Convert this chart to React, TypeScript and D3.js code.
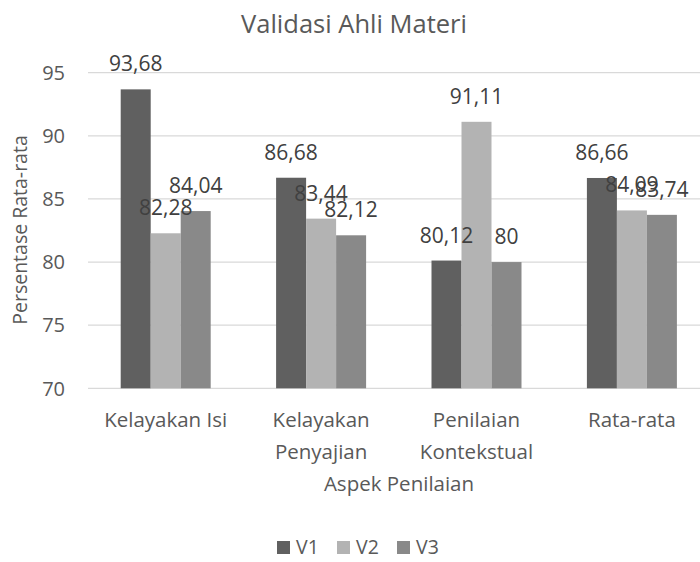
import * as d3 from 'd3'

const categories = [['Kelayakan Isi'], ['Kelayakan', 'Penyajian'], ['Penilaian', 'Kontekstual'], ['Rata-rata']]
const seriesNames = ['V1', 'V2', 'V3']
const v1 = [93.68, 86.68, 80.12, 86.66]
const v2 = [82.28, 83.44, 91.11, 84.09]
const v3 = [84.04, 82.12, 80, 83.74]
const yTicks = [70, 75, 80, 85, 90, 95]
const colors = ['#606060', '#b3b3b3', '#898989']

const font = "'Open Sans', sans-serif"

export default function App() {
  const width = 700
  const height = 562
  const series = [v1, v2, v3]

  const x = d3.scaleBand().domain(categories.map((_, i) => String(i))).range([88, 709.6])
  const y = d3.scaleLinear().domain([70, 95]).range([388.3, 72.7])
  const inner = d3.scaleBand().domain(seriesNames).range([0, 90])
  const pad = (x.bandwidth() - 90) / 2

  const fmt = (v: number) => String(v).replace('.', ',')

  return (
    <svg width={width} height={height} style={{ position: 'absolute', left: 0, top: 0, background: '#fff' }}>
      <text x={354} y={33} textAnchor="middle" fontFamily={font} fontSize={25.5} fill="#595959">
        Validasi Ahli Materi
      </text>

      {yTicks.map(t => (
        <g key={t}>
          <line x1={88} x2={709.6} y1={y(t)} y2={y(t)} stroke="#d9d9d9" strokeWidth={1.3} />
          <text x={65} y={y(t)} dy="0.36em" textAnchor="end" fontFamily={font} fontSize={20} fill="#595959">
            {t}
          </text>
        </g>
      ))}

      {series.map((vals, s) =>
        vals.map((v, i) => {
          const bx = (x(String(i)) as number) + pad + (inner(seriesNames[s]) as number)
          return (
            <rect key={`${s}-${i}`} x={bx} y={y(v)} width={inner.bandwidth()} height={y(70) - y(v)} fill={colors[s]} />
          )
        })
      )}

      {series.map((vals, s) =>
        vals.map((v, i) => {
          const cx = (x(String(i)) as number) + pad + (inner(seriesNames[s]) as number) + inner.bandwidth() / 2
          return (
            <text key={`l${s}-${i}`} x={cx} y={y(v) - 18} textAnchor="middle" fontFamily={font} fontSize={21} fill="#404040">
              {fmt(v)}
            </text>
          )
        })
      )}

      {categories.map((lines, i) => (
        <text key={i} textAnchor="middle" fontFamily={font} fontSize={20.5} fill="#595959">
          {lines.map((ln, j) => (
            <tspan key={j} x={(x(String(i)) as number) + x.bandwidth() / 2} y={427 + j * 32}>
              {ln}
            </tspan>
          ))}
        </text>
      ))}

      <text x={399} y={491} textAnchor="middle" fontFamily={font} fontSize={20.5} fill="#595959">
        Aspek Penilaian
      </text>

      <text transform="translate(27,230) rotate(-90)" textAnchor="middle" fontFamily={font} fontSize={19.5} fill="#595959">
        Persentase Rata-rata
      </text>

      {seriesNames.map((n, s) => (
        <g key={n} transform={`translate(${277 + s * 60},541)`}>
          <rect width={13} height={13} fill={colors[s]} />
          <text x={19} y={13} fontFamily={font} fontSize={19.5} fill="#595959">
            {n}
          </text>
        </g>
      ))}
    </svg>
  )
}
